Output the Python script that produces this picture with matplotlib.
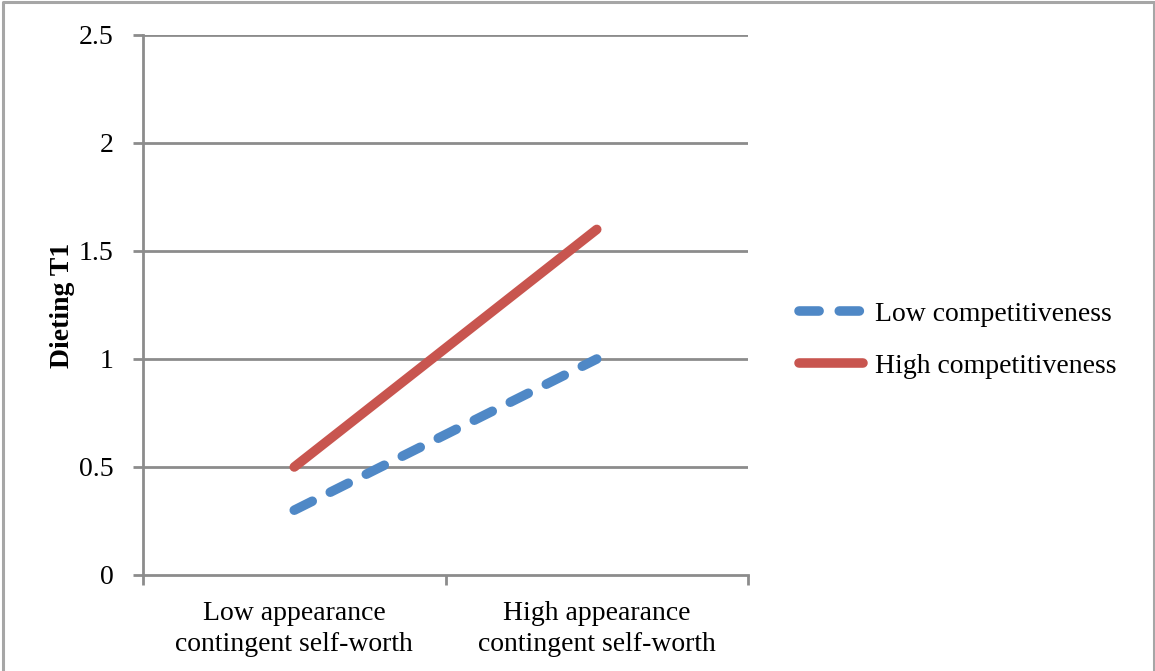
import matplotlib
matplotlib.use('Agg')
import matplotlib.pyplot as plt

matplotlib.rcParams.update({'font.family': 'Liberation Serif', 'font.size': 20})

categories = ['Low appearance\ncontingent self-worth',
              'High appearance\ncontingent self-worth']
low_comp = [0.3, 1.0]
high_comp = [0.5, 1.6]
yticks = [0, 0.5, 1, 1.5, 2, 2.5]
yticklabels = ['0', '0.5', '1', '1.5', '2', '2.5']

grey = '#8c8c8c'
blue = '#4f88c6'
red = '#c8554f'

fig = plt.figure(figsize=(11.55, 6.71), dpi=100)
ax = fig.add_axes([143 / 1155., 1 - 575 / 671., (748 - 143) / 1155., (575 - 35) / 671.])

# frame round the whole figure (open at the bottom)
fig.add_artist(plt.Line2D([3 / 1155., 3 / 1155., 1153.5 / 1155., 1153.5 / 1155.],
                          [0, 1 - 1.5 / 671., 1 - 1.5 / 671., 0],
                          transform=fig.transFigure, color='#a6a6a6', lw=2.2))

x = [0.5, 1.5]
lw = 6.9
l1, = ax.plot(x, low_comp, color=blue, lw=lw, solid_capstyle='round',
              dash_capstyle='round', label='Low competitiveness', zorder=3)
l1.set_dashes((2.1, 2.1))
l2, = ax.plot(x, high_comp, color=red, lw=lw, solid_capstyle='round',
              label='High competitiveness', zorder=3)

ax.set_xlim(0, 2)
ax.set_ylim(0, 2.5)
ax.set_yticks(yticks)
ax.set_yticklabels(yticklabels, fontsize=20)
ax.set_xticks([0, 1, 2])
ax.set_xticklabels([])
ax.set_xticks(x, minor=True)
ax.set_xticklabels(categories, minor=True, linespacing=1.3)
ax.tick_params(axis='x', which='minor', length=0, pad=19)
ax.tick_params(axis='x', which='major', length=7, width=2, color=grey, direction='out')
ax.tick_params(axis='y', length=7, width=2, color=grey, direction='out', pad=14)

for yv in yticks[1:]:
    ax.axhline(yv, color=grey, lw=2, zorder=1)
for s in ['top', 'right']:
    ax.spines[s].set_visible(False)
for s in ['left', 'bottom']:
    ax.spines[s].set_color(grey)
    ax.spines[s].set_linewidth(2)

ax.set_ylabel('Dieting T1', fontweight='bold', fontsize=20, labelpad=3)

leg = ax.legend(loc='center left', bbox_to_anchor=(1.043, 0.435), frameon=False,
                handlelength=2.3, handletextpad=0.42, labelspacing=0.95)

fig.savefig('out.png', dpi=100)
